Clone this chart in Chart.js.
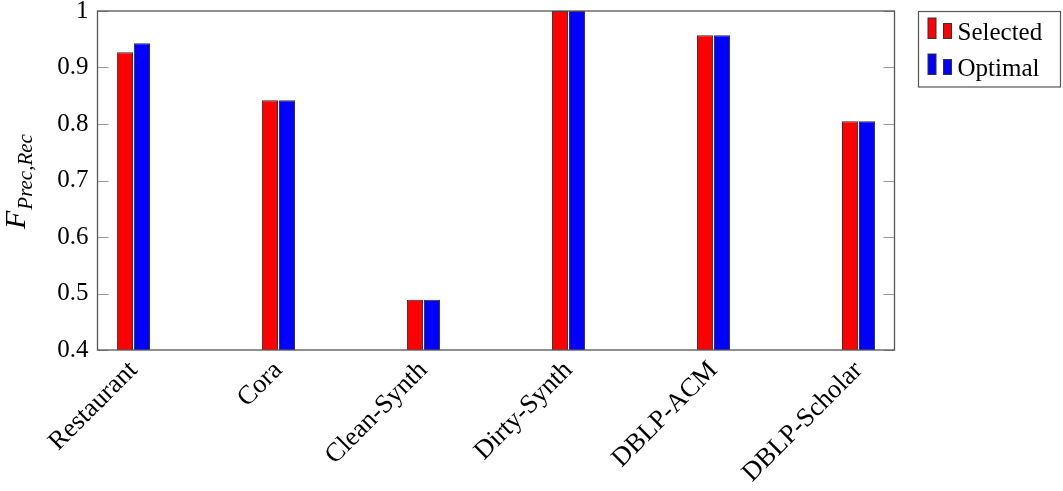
<!DOCTYPE html>
<html>
<head>
<meta charset="utf-8">
<script src="https://cdn.jsdelivr.net/npm/chart.js@4.4.1/dist/chart.umd.min.js"></script>
<style>
  body { margin: 0; background: #fff; }
  #wrap { width: 1063px; height: 491px; position: relative; }
</style>
</head>
<body>
<div id="wrap"><canvas id="myChart"></canvas></div>
<script>
// data
const categories = ['Restaurant', 'Cora', 'Clean-Synth', 'Dirty-Synth', 'DBLP-ACM', 'DBLP-Scholar'];
const selected = [0.927, 0.842, 0.489, 1.0, 0.957, 0.805];
const optimal = [0.943, 0.842, 0.489, 1.0, 0.957, 0.805];
const yTicks = [0.4, 0.5, 0.6, 0.7, 0.8, 0.9, 1];

const serif = "'Liberation Serif', 'Times New Roman', serif";

function toPoints(values) {
    return values.map((v, i) => ({ x: i, y: v }));
}

// frame, inward ticks, y title and the legend box
const decorations = {
    id: 'decorations',
    afterDatasetsDraw(chart) {
        const ctx = chart.ctx;
        const a = chart.chartArea;
        const y = chart.scales.y;
        ctx.save();

        ctx.strokeStyle = '#999';
        ctx.lineWidth = 1;
        yTicks.forEach(v => {
            const py = Math.round(y.getPixelForValue(v)) + 0.5;
            ctx.beginPath();
            ctx.moveTo(a.left, py);
            ctx.lineTo(a.left + 11, py);
            ctx.moveTo(a.right - 11, py);
            ctx.lineTo(a.right, py);
            ctx.stroke();
        });

        ctx.strokeStyle = '#555';
        ctx.lineWidth = 1.3;
        ctx.strokeRect(a.left, a.top, a.right - a.left, a.bottom - a.top);

        // y axis title F_{Prec,Rec}
        ctx.fillStyle = '#000';
        ctx.translate(25, 229);
        ctx.rotate(-Math.PI / 2);
        ctx.font = 'italic 30px ' + serif;
        ctx.textBaseline = 'alphabetic';
        ctx.textAlign = 'left';
        ctx.fillText('F', 0, 0);
        const w = ctx.measureText('F').width;
        ctx.font = 'italic 21px ' + serif;
        ctx.fillText('Prec,Rec', w + 1, 7);
        ctx.restore();

        // legend
        ctx.save();
        ctx.fillStyle = '#fff';
        ctx.strokeStyle = '#555';
        ctx.lineWidth = 1.2;
        ctx.fillRect(918.5, 11.5, 142, 75.5);
        ctx.strokeRect(918.5, 11.5, 142, 75.5);
        chart.data.datasets.forEach((ds, i) => {
            const base = 38.5 + i * 36;
            ctx.fillStyle = ds.backgroundColor;
            ctx.strokeStyle = '#333';
            ctx.lineWidth = 1;
            ctx.fillRect(928, base - 20.5, 8, 20.5);
            ctx.strokeRect(928, base - 20.5, 8, 20.5);
            ctx.fillRect(943.5, base - 15, 8, 15);
            ctx.strokeRect(943.5, base - 15, 8, 15);
            ctx.fillStyle = '#000';
            ctx.font = '25px ' + serif;
            ctx.textAlign = 'left';
            ctx.textBaseline = 'alphabetic';
            ctx.fillText(ds.label, 957.5, base + 1.5);
        });
        ctx.restore();
    }
};

const ctx = document.getElementById('myChart').getContext('2d');
const myChart = new Chart(ctx, {
    type: 'bar',
    data: {
        datasets: [{
            label: 'Selected',
            data: toPoints(selected),
            backgroundColor: '#ff0000',
            borderColor: '#2a2a2a',
            borderWidth: 1,
            borderSkipped: false
        }, {
            label: 'Optimal',
            data: toPoints(optimal),
            backgroundColor: '#0000ff',
            borderColor: '#2a2a2a',
            borderWidth: 1,
            borderSkipped: false
        }]
    },
    options: {
        responsive: true,
        maintainAspectRatio: false,
        animation: false,
        categoryPercentage: 0.2345,
        barPercentage: 0.95,
        layout: { padding: { left: 0, top: 11, right: 168.5, bottom: 0 } },
        plugins: {
            legend: { display: false },
            tooltip: { enabled: false }
        },
        scales: {
            x: {
                type: 'linear',
                offset: false,
                min: -0.248,
                max: 5.248,
                grid: { display: false, drawTicks: false, offset: false },
                border: { display: false },
                afterBuildTicks: scale => {
                    scale.ticks = categories.map((c, i) => ({ value: i }));
                },
                afterFit: scale => {
                    scale.height = 141;
                    scale.paddingLeft = 0;
                    scale.paddingRight = 0;
                },
                ticks: {
                    autoSkip: false,
                    minRotation: 45,
                    maxRotation: 45,
                    padding: 5,
                    color: '#000',
                    font: { family: serif, size: 26.5 },
                    callback: v => categories[v]
                }
            },
            y: {
                min: 0.4,
                max: 1,
                grid: { display: false, drawTicks: false },
                border: { display: false },
                afterBuildTicks: scale => {
                    scale.ticks = yTicks.map(v => ({ value: v }));
                },
                afterFit: scale => {
                    scale.width = 97.5;
                    scale.paddingTop = 0;
                    scale.paddingBottom = 0;
                },
                ticks: {
                    padding: 9,
                    color: '#000',
                    font: { family: serif, size: 25 },
                    callback: v => (v === 1 ? '1' : v.toFixed(1))
                }
            }
        }
    },
    plugins: [decorations]
});
</script>
</body>
</html>
